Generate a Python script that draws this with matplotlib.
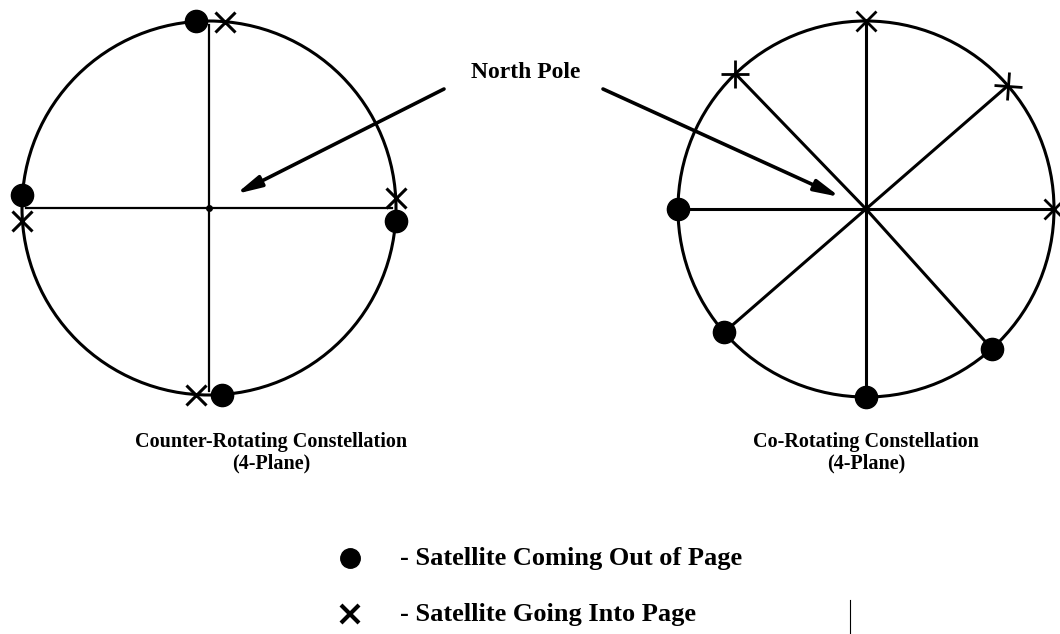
import numpy as np
import matplotlib
matplotlib.use('Agg')
import matplotlib.pyplot as plt
from matplotlib.patches import Circle
from matplotlib.markers import MarkerStyle
from matplotlib.transforms import Affine2D

# diagram geometry (pixel units, y grows downward)
left_center = (209, 208)
left_radius = 187
right_center = (866, 209)
right_radius = 188

# counter-rotating: satellite angles in degrees (0 = right, 90 = up)
left_out_angles = [94, 176, 356, 274]
left_in_angles = [85, 184, 3, 266]
left_spokes = [0, 90, 180, 270]

# co-rotating: one satellite at the end of each spoke
right_in_angles = [90, 134, 41, 0]
right_out_angles = [180, 221, 270, 312]

titles = ['Counter-Rotating Constellation\n(4-Plane)',
          'Co-Rotating Constellation\n(4-Plane)']
legend_labels = ['- Satellite Coming Out of Page',
                 '- Satellite Going Into Page']
pole_label = 'North Pole'
arrow_starts = [(444, 89), (603, 89)]
arrow_tips = [(236, 194), (840, 197)]

plt.rcParams['font.family'] = ['Liberation Serif', 'DejaVu Serif']


def rim(center, radius, angle):
    a = np.radians(angle)
    return center[0] + radius * np.cos(a), center[1] - radius * np.sin(a)


def x_marker(angle):
    return MarkerStyle('x', transform=Affine2D().rotate_deg(angle - 90))


fig = plt.figure(figsize=(10.6, 6.34), dpi=100)
ax = fig.add_axes([0, 0, 1, 1])
ax.set_xlim(0, 1060)
ax.set_ylim(634, 0)
ax.axis('off')

# left diagram
ax.add_patch(Circle(left_center, left_radius, fill=False, lw=2.2, color='black'))
for a in left_spokes:
    x, y = rim(left_center, left_radius - 4, a)
    ax.plot([left_center[0], x], [left_center[1], y], color='black', lw=1.6)
ax.plot(*left_center, 'o', color='black', ms=4)
for a in left_out_angles:
    ax.plot(*rim(left_center, left_radius, a), 'o', color='black', ms=16)
for a in left_in_angles:
    ax.plot(*rim(left_center, left_radius, a), marker='x', color='black',
            ms=14, mew=2.2, ls='none')

# right diagram
ax.add_patch(Circle(right_center, right_radius, fill=False, lw=2.2, color='black'))
for a in right_in_angles + right_out_angles:
    x, y = rim(right_center, right_radius, a)
    ax.plot([right_center[0], x], [right_center[1], y], color='black', lw=2.2)
for a in right_out_angles:
    ax.plot(*rim(right_center, right_radius, a), 'o', color='black', ms=16)
for a in right_in_angles:
    ax.plot(*rim(right_center, right_radius, a), marker=x_marker(a),
            color='black', ms=14, mew=2.0, ls='none')

# north pole arrows
ax.text(526, 73, pole_label, ha='center', va='center', fontsize=17,
        fontweight='bold')
for s, t in zip(arrow_starts, arrow_tips):
    ax.annotate('', xy=t, xytext=s,
                arrowprops=dict(arrowstyle='-|>,head_length=1.5,head_width=0.35',
                                lw=2.6, color='black', shrinkA=0, shrinkB=0))

# titles
ax.text(271, 453, titles[0], ha='center', va='center',
        fontsize=14.5, fontweight='bold', linespacing=1.1)
ax.text(866, 453, titles[1], ha='center', va='center',
        fontsize=14.5, fontweight='bold', linespacing=1.1)

# legend
ax.plot(350, 558, 'o', color='black', ms=14)
ax.plot(350, 614, marker='x', color='black', ms=13, mew=3, ls='none')
ax.text(400, 558, legend_labels[0], ha='left', va='center', fontsize=19,
        fontweight='bold')
ax.text(400, 614, legend_labels[1], ha='left', va='center', fontsize=19,
        fontweight='bold')
ax.plot([850, 850], [600, 634], color='black', lw=0.8)

fig.savefig('out.png', dpi=100)
